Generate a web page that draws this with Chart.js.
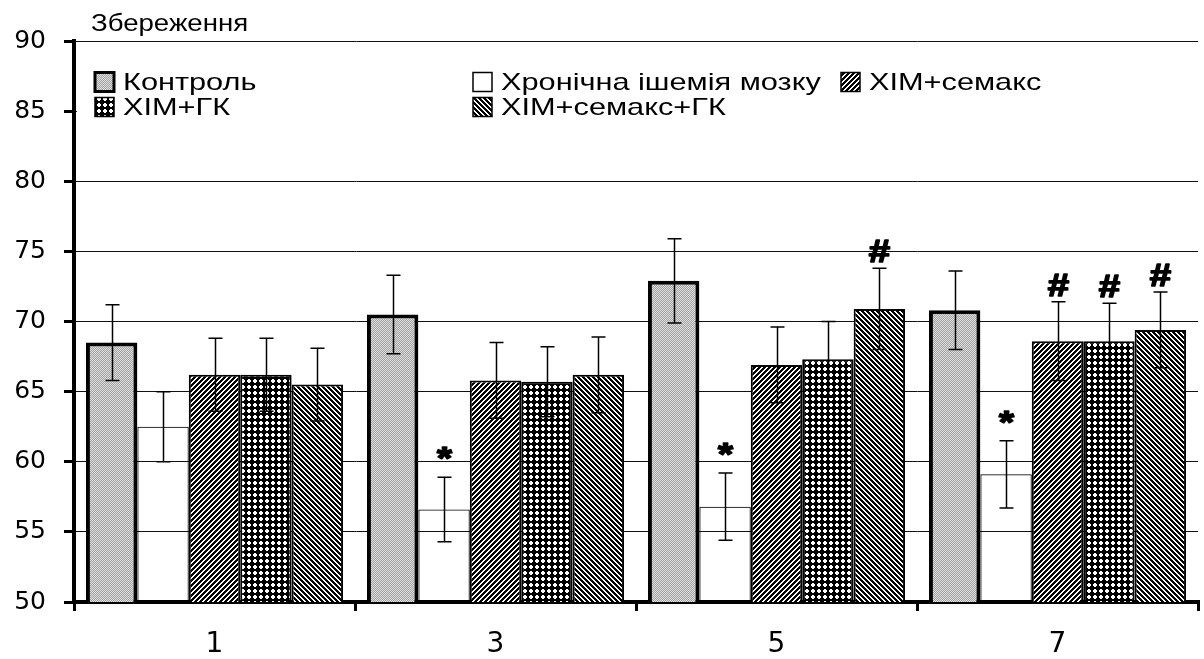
<!DOCTYPE html>
<html>
<head>
<meta charset="utf-8">
<style>
  html, body { margin: 0; padding: 0; background: #ffffff; }
  #wrap { width: 1204px; height: 659px; }
</style>
<script src="https://cdn.jsdelivr.net/npm/chart.js@4/dist/chart.umd.min.js"></script>
</head>
<body>
<div id="wrap"><canvas id="c" width="1204" height="659"></canvas></div>
<script>
// Days of observation
const categories = ['1', '3', '5', '7'];

// Series labels
const seriesNames = ['Контроль', 'Хронічна ішемія мозку', 'ХІМ+семакс', 'ХІМ+ГК', 'ХІМ+семакс+ГК'];

// Mean values per series
const control      = [68.5, 70.5, 72.9, 70.8];
const ischemia     = [62.5, 56.6, 56.8, 59.1];
const semax        = [66.2, 65.8, 66.9, 68.6];
const gk           = [66.2, 65.7, 67.3, 68.6];
const semaxGk      = [65.5, 66.2, 70.9, 69.4];

// Error bar half-widths per series
const controlErr   = [2.7, 2.8, 3.0, 2.8];
const ischemiaErr  = [2.5, 2.3, 2.4, 2.4];
const semaxErr     = [2.6, 2.7, 2.7, 2.8];
const gkErr        = [2.6, 2.5, 2.7, 2.7];
const semaxGkErr   = [2.6, 2.7, 2.9, 2.7];

// Significance marks above error bars
const controlMarks  = ['', '', '', ''];
const ischemiaMarks = ['', '*', '*', '*'];
const semaxMarks    = ['', '', '', '#'];
const gkMarks       = ['', '', '', '#'];
const semaxGkMarks  = ['', '', '#', '#'];

// Y axis range
const yMin = 50, yMax = 90, yStep = 5;
const yTitle = 'Збереження';

// ---- fill patterns ----
function makeTile(size, painter) {
  const cv = document.createElement('canvas');
  cv.width = size; cv.height = size;
  const g = cv.getContext('2d');
  painter(g, size);
  return document.getElementById('c').getContext('2d').createPattern(cv, 'repeat');
}
const stipple = makeTile(2, (g) => {
  g.fillStyle = '#dedede'; g.fillRect(0, 0, 2, 2);
  g.fillStyle = '#a2a2a2'; g.fillRect(1, 0, 1, 1); g.fillRect(0, 1, 1, 1);
});
function diagonal(forward) {
  return makeTile(5, (g, s) => {
    g.fillStyle = '#ffffff'; g.fillRect(0, 0, s, s);
    g.fillStyle = '#000000';
    for (let y = 0; y < s; y++) {
      for (let x = 0; x < s; x++) {
        const k = forward ? (x + y) % s : ((x - y) % s + s) % s;
        if (k < 3) g.fillRect(x, y, 1, 1);
      }
    }
  });
}
const fwdHatch = diagonal(true);
const backHatch = diagonal(false);
const dots = makeTile(6, (g) => {
  g.fillStyle = '#000000'; g.fillRect(0, 0, 6, 6);
  g.fillStyle = '#ffffff';
  g.fillRect(1, 2, 4, 2);
  g.fillRect(2, 1, 2, 4);
});

const seriesData  = [control, ischemia, semax, gk, semaxGk];
const seriesErr   = [controlErr, ischemiaErr, semaxErr, gkErr, semaxGkErr];
const seriesMarks = [controlMarks, ischemiaMarks, semaxMarks, gkMarks, semaxGkMarks];
const fills       = [stipple, 'rgba(255,255,255,0)', fwdHatch, dots, backHatch];
const legendFills = [stipple, '#ffffff', fwdHatch, dots, backHatch];
const borders     = [4, 1, 2, 2, 2];

const FONT = '"Liberation Sans", Arial, sans-serif';
const TICK_FONT = '"DejaVu Sans", sans-serif';

// Draws text widened horizontally by sx; optional outline thickens the glyphs
function wideText(ctx, text, x, y, sx, align, outline) {
  ctx.save();
  ctx.translate(x, y);
  ctx.scale(sx, 1);
  ctx.textAlign = align || 'left';
  ctx.fillText(text, 0, 0);
  if (outline) {
    ctx.lineWidth = outline;
    ctx.strokeStyle = ctx.fillStyle;
    ctx.lineJoin = 'round';
    ctx.strokeText(text, 0, 0);
  }
  ctx.restore();
}

// Error bars with caps, plus significance marks
const errorBars = {
  id: 'errorBars',
  afterDatasetsDraw(chart) {
    const ctx = chart.ctx;
    const y = chart.scales.y;
    ctx.save();
    ctx.strokeStyle = '#000';
    ctx.lineWidth = 1.5;
    chart.data.datasets.forEach((ds, di) => {
      const meta = chart.getDatasetMeta(di);
      meta.data.forEach((bar, i) => {
        const v = seriesData[di][i], e = seriesErr[di][i];
        const top = y.getPixelForValue(v + e);
        const bot = y.getPixelForValue(v - e);
        const x = Math.round(bar.x) + 0.5;
        const cap = 7;
        ctx.beginPath();
        ctx.moveTo(x, top); ctx.lineTo(x, bot);
        ctx.moveTo(x - cap, top); ctx.lineTo(x + cap, top);
        ctx.moveTo(x - cap, bot); ctx.lineTo(x + cap, bot);
        ctx.stroke();
        const m = seriesMarks[di][i];
        if (m) {
          ctx.save();
          ctx.fillStyle = '#000';
          ctx.textBaseline = 'alphabetic';
          ctx.font = 'bold 32px ' + FONT;
          wideText(ctx, m, x, m === '*' ? top - 8 : top - 6, 1.2, 'center', 1.6);
          ctx.restore();
        }
      });
    });
    ctx.restore();
  }
};

// Two-row legend inside the plot, and the axis caption
const legendBox = {
  id: 'legendBox',
  beforeDatasetsDraw(chart) {
    const ctx = chart.ctx;
    const a = chart.chartArea;
    ctx.save();
    ctx.fillStyle = '#ffffff';
    ctx.fillRect(a.left + 3, 52, a.right - a.left - 3, 70);
    const cols = [95, 473, 841];
    const rows = [82, 107];
    const slots = [[0, 0], [1, 0], [2, 0], [0, 1], [1, 1]];
    ctx.font = '24px ' + FONT;
    ctx.textBaseline = 'middle';
    seriesNames.forEach((name, i) => {
      const bx = cols[slots[i][0]], cy = rows[slots[i][1]];
      const s = 19;
      ctx.fillStyle = legendFills[i];
      ctx.fillRect(bx, cy - s / 2, s, s);
      ctx.strokeStyle = '#000';
      ctx.lineWidth = i === 0 ? 3 : 1.5;
      ctx.strokeRect(bx, cy - s / 2, s, s);
      ctx.fillStyle = '#000';
      wideText(ctx, name, bx + 28, cy + 1, 1.28, 'left');
    });
    ctx.restore();
  },
  afterDraw(chart) {
    const ctx = chart.ctx;
    ctx.save();
    ctx.fillStyle = '#000';
    ctx.font = '23px ' + FONT;
    ctx.textBaseline = 'alphabetic';
    wideText(ctx, yTitle, 91, 31, 1.2, 'left');
    ctx.restore();
  }
};

new Chart(document.getElementById('c'), {
  type: 'bar',
  data: {
    labels: categories,
    datasets: seriesNames.map((name, i) => ({
      label: name,
      data: seriesData[i],
      backgroundColor: fills[i],
      borderColor: '#000000',
      borderWidth: borders[i],
      categoryPercentage: 0.915,
      barPercentage: 1.0
    }))
  },
  options: {
    responsive: false,
    animation: false,
    devicePixelRatio: 1,
    layout: { padding: { top: 41, right: 6, left: 0, bottom: 0 } },
    plugins: { legend: { display: false }, tooltip: { enabled: false } },
    scales: {
      x: {
        offset: true,
        grid: { display: true, drawOnChartArea: false, offset: true, color: '#000', lineWidth: 3, tickLength: 9 },
        border: { display: true, color: '#000', width: 4 },
        ticks: { color: '#000', font: { family: TICK_FONT, size: 28 }, padding: 17 },
        afterFit(s) { s.height = 57; }
      },
      y: {
        min: yMin, max: yMax,
        grid: { color: '#111', lineWidth: 1, tickLength: 10, tickColor: '#000', tickWidth: 3 },
        border: { display: true, color: '#000', width: 4 },
        ticks: { stepSize: yStep, color: '#000', font: { family: TICK_FONT, size: 25 }, padding: 18 },
        afterFit(s) { s.width = 74; }
      }
    }
  },
  plugins: [legendBox, errorBars]
});
</script>
</body>
</html>
